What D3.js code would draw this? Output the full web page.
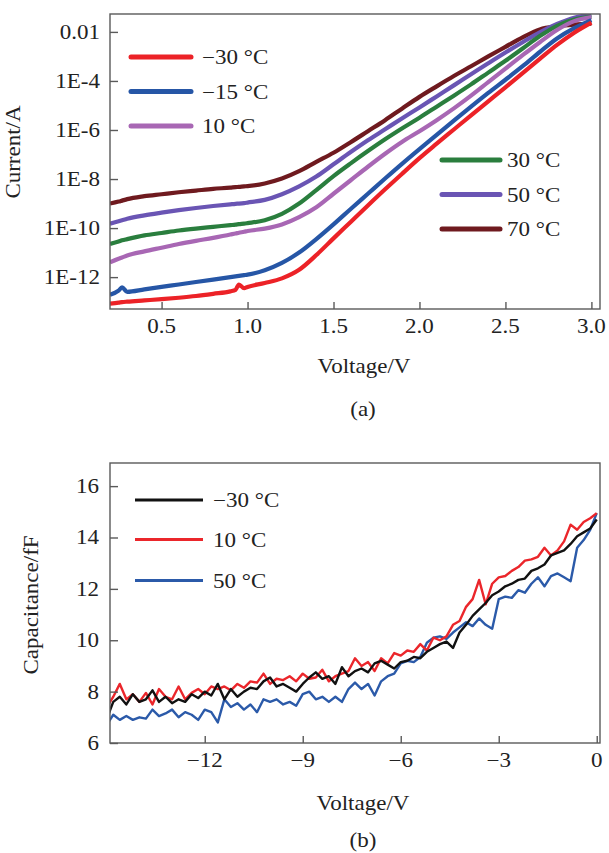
<!DOCTYPE html>
<html>
<head>
<meta charset="utf-8">
<script src="https://cdn.jsdelivr.net/npm/d3@7/dist/d3.min.js"></script>
<style>
  html, body { margin: 0; padding: 0; background: #fff; }
  svg { display: block; }
  text { font-family: "Liberation Serif", "DejaVu Serif", serif; fill: #222; }
</style>
</head>
<body>
<svg id="chart" width="609" height="853"></svg>
<script>
// ---------- Panel (a): I-V curves (log10 of current in A) ----------
const voltA = [0.2,0.25,0.27,0.3,0.4,0.5,0.6,0.7,0.8,0.9,0.93,0.95,0.98,1.0,1.1,1.2,1.3,1.4,1.5,1.6,1.7,1.8,1.9,2.0,2.1,2.2,2.3,2.4,2.5,2.6,2.7,2.8,2.9,3.0];
const logI_m30 = [-13.08,-13.04,-13.02,-13.0,-12.95,-12.9,-12.84,-12.77,-12.68,-12.58,-12.52,-12.3,-12.45,-12.4,-12.24,-12.05,-11.7,-11.1,-10.42,-9.75,-9.08,-8.42,-7.78,-7.15,-6.56,-5.98,-5.4,-4.83,-4.26,-3.68,-3.1,-2.53,-2.03,-1.62];
const logI_m15 = [-12.72,-12.55,-12.42,-12.6,-12.5,-12.4,-12.3,-12.2,-12.1,-12.0,-11.97,-11.95,-11.92,-11.9,-11.72,-11.42,-11.0,-10.45,-9.85,-9.22,-8.6,-7.98,-7.37,-6.78,-6.2,-5.62,-5.05,-4.49,-3.95,-3.4,-2.82,-2.27,-1.85,-1.52];
const logI_10  = [-11.4,-11.25,-11.2,-11.12,-10.95,-10.8,-10.65,-10.52,-10.4,-10.26,-10.22,-10.19,-10.15,-10.12,-10.02,-9.85,-9.55,-9.15,-8.6,-8.05,-7.5,-6.97,-6.48,-6.05,-5.6,-5.12,-4.6,-4.05,-3.5,-2.95,-2.42,-1.92,-1.56,-1.4];
const logI_30  = [-10.65,-10.55,-10.5,-10.45,-10.3,-10.2,-10.1,-10.02,-9.95,-9.88,-9.86,-9.84,-9.82,-9.8,-9.68,-9.42,-9.0,-8.45,-7.88,-7.36,-6.86,-6.38,-5.93,-5.5,-5.05,-4.6,-4.14,-3.66,-3.18,-2.68,-2.17,-1.75,-1.5,-1.38];
const logI_50  = [-9.82,-9.72,-9.68,-9.62,-9.48,-9.37,-9.27,-9.18,-9.1,-9.03,-9.01,-9.0,-8.98,-8.96,-8.85,-8.62,-8.3,-7.9,-7.4,-6.9,-6.42,-5.97,-5.52,-5.08,-4.63,-4.18,-3.73,-3.28,-2.84,-2.42,-2.02,-1.68,-1.42,-1.3];
const logI_70  = [-9.0,-8.92,-8.88,-8.82,-8.7,-8.62,-8.54,-8.47,-8.4,-8.35,-8.33,-8.32,-8.3,-8.29,-8.18,-7.98,-7.68,-7.3,-6.93,-6.5,-6.05,-5.6,-5.12,-4.65,-4.22,-3.8,-3.4,-3.0,-2.61,-2.22,-1.9,-1.77,-1.7,-1.66];
const labelsA = ["\u221230 \u00B0C","\u221215 \u00B0C","10 \u00B0C","30 \u00B0C","50 \u00B0C","70 \u00B0C"];
const colorsA = ["#ec2227","#2656a6","#a867b4","#2a7e3e","#6a55b4","#6f1a1f"];
const yTicksA = [1e-2,1e-4,1e-6,1e-8,1e-10,1e-12];
const yTickLabelsA = ["0.01","1E-4","1E-6","1E-8","1E-10","1E-12"];
const xTicksA = [0.5,1.0,1.5,2.0,2.5,3.0];
const xTickLabelsA = ["0.5","1.0","1.5","2.0","2.5","3.0"];

// ---------- Panel (b): C-V curves (fF) ----------
const voltB = [-14.95,-14.8,-14.6,-14.4,-14.2,-14.0,-13.8,-13.6,-13.4,-13.2,-13.0,-12.8,-12.6,-12.4,-12.2,-12.0,-11.8,-11.6,-11.4,-11.2,-11.0,-10.8,-10.6,-10.4,-10.2,-10.0,-9.8,-9.6,-9.4,-9.2,-9.0,-8.8,-8.6,-8.4,-8.2,-8.0,-7.8,-7.6,-7.4,-7.2,-7.0,-6.8,-6.6,-6.4,-6.2,-6.0,-5.8,-5.6,-5.4,-5.2,-5.0,-4.8,-4.6,-4.4,-4.2,-4.0,-3.8,-3.6,-3.4,-3.2,-3.0,-2.8,-2.6,-2.4,-2.2,-2.0,-1.8,-1.6,-1.4,-1.2,-1.0,-0.8,-0.6,-0.4,-0.2,0.0];
const cap_m30 = [7.1,7.6,7.8,7.5,7.9,7.6,7.7,8.05,7.6,7.8,7.55,7.7,7.6,7.9,7.75,8.0,7.85,8.3,7.7,8.1,7.8,8.0,8.15,8.1,8.4,8.55,8.2,8.3,8.15,8.0,8.3,8.55,8.75,8.5,8.6,8.3,8.95,8.6,8.8,8.9,8.75,9.1,9.2,9.05,8.9,9.15,9.2,9.35,9.3,9.55,9.7,9.85,9.95,9.7,10.3,10.6,10.95,11.2,11.45,11.75,11.9,12.1,12.2,12.35,12.4,12.7,12.8,12.95,13.3,13.4,13.5,13.75,14.05,14.2,14.35,14.7];
const cap_10  = [7.5,7.8,8.3,7.7,7.9,7.6,7.95,7.5,8.1,7.8,7.7,8.2,7.7,7.95,8.1,7.9,8.2,8.1,8.2,8.05,8.3,8.15,8.4,8.35,8.7,8.3,8.5,8.45,8.6,8.4,8.7,8.5,8.55,8.85,8.4,8.6,8.7,8.8,9.3,9.0,9.15,8.8,9.3,9.1,9.5,9.4,9.6,9.55,9.85,9.6,10.1,10.0,10.15,10.6,10.75,11.3,11.6,12.35,11.4,12.2,12.45,12.5,12.7,12.85,13.1,13.15,13.25,13.6,13.3,13.5,13.85,14.5,14.3,14.6,14.75,14.95];
const cap_50  = [6.8,7.1,6.9,7.05,6.9,7.0,6.95,7.3,7.05,7.15,7.3,7.0,7.2,7.1,6.9,7.3,7.2,6.8,7.7,7.4,7.55,7.3,7.5,7.2,7.7,7.6,7.7,7.5,7.6,7.45,7.9,8.0,7.7,7.8,7.6,7.8,7.6,8.1,8.35,8.1,8.3,7.85,8.4,8.6,8.7,9.1,9.2,9.15,9.35,9.9,10.1,10.15,10.05,10.3,10.5,10.7,10.55,10.85,10.6,10.45,11.6,11.7,11.65,11.95,11.85,12.2,12.45,12.1,12.5,12.6,12.45,12.3,13.6,13.9,14.3,14.95];
const labelsB = ["\u221230 \u00B0C","10 \u00B0C","50 \u00B0C"];
const colorsB = ["#111111","#eb262b","#2b5aa9"];
const yTicksB = [6,8,10,12,14,16];
const xTicksB = [-12,-9,-6,-3,0];
const xTickLabelsB = ["\u221212","\u22129","\u22126","\u22123","0"];

// ---------- drawing ----------
const svg = d3.select("#chart");
const SX = 1.15; // horizontal stretch of the serif glyphs
const FS = 20;
const frameColor = "#5a5a5a";

function label(x, y, str, anchor, rot, size) {
  svg.append("text")
    .attr("transform", `translate(${x},${y}) rotate(${rot||0}) scale(${SX},1)`)
    .attr("text-anchor", anchor || "middle")
    .style("font-size", (size||FS) + "px")
    .text(str);
}

function panel(cfg) {
  const {x, y, top, bottom} = cfg;
  svg.append("rect")
    .attr("x", x.range()[0]).attr("y", top)
    .attr("width", x.range()[1] - x.range()[0]).attr("height", bottom - top)
    .attr("fill", "none").attr("stroke", frameColor).attr("stroke-width", 1.4);
  const ax = svg.append("g").attr("transform", `translate(0,${bottom})`)
    .call(d3.axisBottom(x).tickValues(cfg.xTicks).tickSize(-7).tickSizeOuter(0).tickFormat(""));
  const ay = svg.append("g").attr("transform", `translate(${x.range()[0]},0)`)
    .call(d3.axisLeft(y).tickValues(cfg.yTicks).tickSize(-8).tickSizeOuter(0).tickFormat(""));
  [ax, ay].forEach(a => {
    a.select(".domain").remove();
    a.selectAll("line").attr("stroke", frameColor).attr("stroke-width", 1.4);
  });
  cfg.xTicks.forEach((t, i) => label(x(t), bottom + 24, cfg.xLabels[i], "middle"));
  cfg.yTicks.forEach((t, i) => label(cfg.yLabelRight, y(t) + 7, cfg.yLabels[i], "end"));
}

// Panel (a)
const xA = d3.scaleLinear().domain([0.2, 3.05]).range([110, 600]);
const yA = d3.scaleLog().domain([Math.pow(10, -13.3), Math.pow(10, -1.27)]).range([309, 14]);
svg.append("clipPath").attr("id", "clipA").append("rect").attr("x", 110).attr("y", 14).attr("width", 490).attr("height", 295);
const seriesA = [logI_70, logI_50, logI_30, logI_10, logI_m15, logI_m30];
const colorOrder = [5, 4, 3, 2, 1, 0];
const lineA = d3.line().x(d => xA(d[0])).y(d => yA(Math.pow(10, d[1]))).curve(d3.curveMonotoneX);
const gA = svg.append("g").attr("clip-path", "url(#clipA)");
seriesA.forEach((s, i) => {
  gA.append("path")
    .datum(voltA.map((v, j) => [v, s[j]]))
    .attr("d", lineA)
    .attr("fill", "none")
    .attr("stroke", colorsA[colorOrder[i]])
    .attr("stroke-width", 4.2)
    .attr("stroke-linejoin", "round");
});
panel({x: xA, y: yA, top: 14, bottom: 309, xTicks: xTicksA, xLabels: xTickLabelsA,
       yTicks: yTicksA, yLabels: yTickLabelsA, yLabelRight: 100});
const legA = [[131, 191, 57, 202], [131, 191, 91.5, 202], [131, 191, 126, 202],
              [442, 500, 160, 507], [442, 500, 194.5, 507], [442, 500, 229, 507]];
labelsA.forEach((l, i) => {
  const p = legA[i];
  svg.append("line").attr("x1", p[0]).attr("x2", p[1]).attr("y1", p[2]).attr("y2", p[2])
    .attr("stroke", colorsA[i]).attr("stroke-width", 5).attr("stroke-linecap", "round");
  label(p[3], p[2] + 7, l, "start");
});
label(20, 152, "Current/A", "middle", -90);
label(364, 373, "Voltage/V", "middle");
label(363, 416, "(a)", "middle");

// Panel (b)
const xB = d3.scaleLinear().domain([-14.9, 0.1]).range([110, 600]);
const yB = d3.scaleLinear().domain([6, 16.9]).range([743, 463]);
svg.append("clipPath").attr("id", "clipB").append("rect").attr("x", 110).attr("y", 463).attr("width", 490).attr("height", 280);
const lineB = d3.line().x(d => xB(d[0])).y(d => yB(d[1]));
const gB = svg.append("g").attr("clip-path", "url(#clipB)");
const seriesB = [cap_50, cap_10, cap_m30];
const orderB = [2, 1, 0];
seriesB.forEach((s, i) => {
  gB.append("path")
    .datum(voltB.map((v, j) => [v, s[j]]))
    .attr("d", lineB)
    .attr("fill", "none")
    .attr("stroke", colorsB[orderB[i]])
    .attr("stroke-width", 2.4)
    .attr("stroke-linejoin", "round");
});
panel({x: xB, y: yB, top: 463, bottom: 743, xTicks: xTicksB, xLabels: xTickLabelsB,
       yTicks: yTicksB, yLabels: yTicksB.map(String), yLabelRight: 99});
const legB = [500, 539.5, 580.5];
labelsB.forEach((l, i) => {
  svg.append("line").attr("x1", 135).attr("x2", 203).attr("y1", legB[i]).attr("y2", legB[i])
    .attr("stroke", colorsB[i]).attr("stroke-width", 3);
  label(213, legB[i] + 7, l, "start");
});
label(38, 605, "Capacitance/fF", "middle", -90);
label(363, 810, "Voltage/V", "middle");
label(363, 847, "(b)", "middle");
</script>
</body>
</html>
